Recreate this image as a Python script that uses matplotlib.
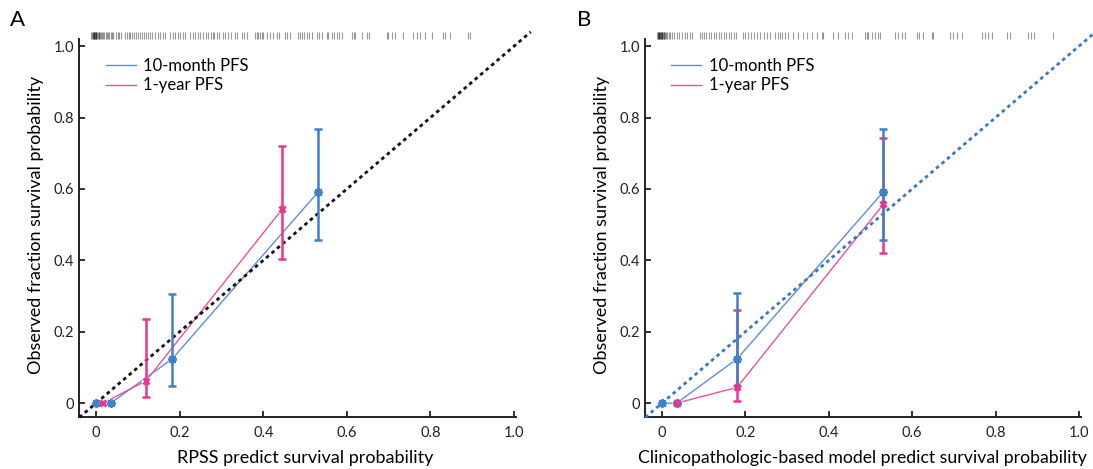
import matplotlib
matplotlib.use('Agg')
import matplotlib.pyplot as plt
from matplotlib.lines import Line2D

plt.rcParams['font.family'] = ['Lato', 'DejaVu Sans']

# ---------------- data ----------------
# Panel A (RPSS)
a_10m_x = [0.0, 0.035, 0.182, 0.531]
a_10m_y = [0.0, 0.0, 0.124, 0.591]
a_10m_lo = [0.0, 0.0, 0.048, 0.457]
a_10m_hi = [0.0, 0.0, 0.307, 0.767]
a_1y_x = [0.017, 0.120, 0.445]
a_1y_y = [0.0, 0.063, 0.543]
a_1y_lo = [0.0, 0.016, 0.403]
a_1y_hi = [0.0, 0.235, 0.720]

# Panel B (clinicopathologic model)
b_10m_x = [0.0, 0.035, 0.180, 0.531]
b_10m_y = [0.0, 0.0, 0.124, 0.592]
b_10m_lo = [0.0, 0.0, 0.048, 0.457]
b_10m_hi = [0.0, 0.0, 0.308, 0.767]
b_1y_x = [0.035, 0.180, 0.531]
b_1y_y = [0.0, 0.044, 0.557]
b_1y_lo = [0.0, 0.006, 0.421]
b_1y_hi = [0.0, 0.260, 0.742]

# rug of predicted probabilities (top)
rug_a = [-0.012, -0.010, -0.008, -0.007, -0.006, -0.005, -0.004, -0.003, -0.002, -0.001,
         0.000, 0.001, 0.002, 0.004, 0.006, 0.008, 0.010, 0.012, 0.014,
         0.017, 0.020, 0.023, 0.026, 0.029, 0.032, 0.035, 0.038, 0.041,
         0.048, 0.052, 0.056, 0.060,
         0.069, 0.073, 0.078, 0.082, 0.087, 0.091, 0.096, 0.100,
         0.105, 0.110, 0.115, 0.120, 0.125, 0.130, 0.134,
         0.141, 0.147, 0.153, 0.159, 0.165,
         0.177, 0.183, 0.189, 0.195, 0.201, 0.207, 0.213,
         0.225, 0.231, 0.237, 0.243, 0.249,
         0.256, 0.262, 0.268, 0.274, 0.280,
         0.282, 0.289, 0.295, 0.303, 0.308, 0.316, 0.324, 0.332, 0.336,
         0.350, 0.354, 0.360,
         0.380, 0.384, 0.388, 0.392, 0.396, 0.400,
         0.410, 0.416, 0.424, 0.432, 0.438,
         0.452, 0.457, 0.464,
         0.484, 0.488, 0.492, 0.498, 0.504, 0.510, 0.516,
         0.528, 0.534, 0.540,
         0.552, 0.556, 0.564, 0.569, 0.576,
         0.581, 0.588, 0.612, 0.616, 0.620, 0.636, 0.648, 0.652,
         0.695, 0.699, 0.707, 0.715, 0.735,
         0.759, 0.767, 0.775, 0.787, 0.803,
         0.831, 0.835, 0.847, 0.891, 0.895]

rug_b = [-0.012, -0.010, -0.009, -0.008, -0.007, -0.006, -0.005, -0.004, -0.003, -0.002,
         -0.001, 0.000, 0.001, 0.002, 0.004, 0.006, 0.008, 0.010, 0.012,
         0.016, 0.020, 0.025, 0.030, 0.036, 0.042, 0.048, 0.054, 0.060, 0.066, 0.072,
         0.091, 0.096, 0.101, 0.106, 0.112, 0.118, 0.124, 0.130, 0.136, 0.142,
         0.148, 0.154, 0.160, 0.166, 0.172, 0.178,
         0.194, 0.200, 0.207, 0.214, 0.221, 0.228, 0.236, 0.244, 0.252, 0.259,
         0.271, 0.278, 0.284,
         0.287, 0.295, 0.303, 0.315, 0.327, 0.339, 0.347, 0.359, 0.371, 0.383, 0.387,
         0.411, 0.423, 0.439, 0.447, 0.455,
         0.487, 0.491, 0.495, 0.503, 0.511, 0.519, 0.523,
         0.559, 0.567, 0.575, 0.583,
         0.611, 0.617, 0.625, 0.647, 0.651,
         0.691, 0.699, 0.707, 0.719,
         0.767, 0.775, 0.783, 0.791,
         0.827, 0.835, 0.878, 0.884, 0.892, 0.938]

ticks = [0.0, 0.2, 0.4, 0.6, 0.8, 1.0]
tick_labels = ['0', '0.2', '0.4', '0.6', '0.8', '1.0']
legend_labels = ['10-month PFS', '1-year PFS']

BLUE = '#3f80cc'
BLUE_LINE = '#5b90d4'
PINK = '#ea3590'
PINK_LINE = '#ee4f9e'

fig = plt.figure(figsize=(10.93, 4.69), dpi=100)
axA = fig.add_axes([0.0726, 0.110, 0.413, 0.822])
axB = fig.add_axes([0.5904, 0.110, 0.412, 0.822])


def series(ax, x, y, lo, hi, col, lcol, marker, ms, mew, ebz):
    ax.plot(x, y, color=lcol, lw=1.0, zorder=2)
    ax.plot(x, y, 'o', color='white', ms=7, mew=0, zorder=3)
    ex, ey, elo, ehi = [], [], [], []
    for xi, yi, l, h in zip(x, y, lo, hi):
        if h > l:
            ex.append(xi); ey.append(yi); elo.append(yi - l); ehi.append(h - yi)
    ax.errorbar(ex, ey, yerr=[elo, ehi], fmt='none', ecolor=col, elinewidth=1.8,
                capsize=3.2, capthick=1.8, zorder=ebz)
    ax.plot(x, y, linestyle='none', marker=marker, ms=ms, mew=mew, color=col,
            mec=col, zorder=6)


def setup(ax, xlabel, diag_col, rug, xl_size, xl_pos):
    ax.set_xlim(-0.04, 1.04)
    ax.set_ylim(-0.04, 1.04)
    ax.plot([-0.04, 1.04], [-0.04, 1.04], color=diag_col, lw=2.0,
            linestyle=(0, (1.3, 1.3)), clip_on=False, zorder=3.5)
    ax.vlines(rug, 1.02, 1.04, color='#000000', alpha=0.4, lw=0.8, clip_on=False)
    for s in ['top', 'right']:
        ax.spines[s].set_visible(False)
    ax.spines['left'].set_bounds(-0.04, 1.02)
    ax.spines['bottom'].set_bounds(-0.04, 1.005)
    for s in ['left', 'bottom']:
        ax.spines[s].set_linewidth(1.4)
        ax.spines[s].set_color('#222222')
    ax.set_xticks(ticks)
    ax.set_xticklabels(tick_labels)
    ax.set_yticks(ticks)
    ax.set_yticklabels(tick_labels)
    ax.tick_params(axis='both', direction='in', length=4, width=1.3,
                   labelsize=10.5, colors='#222222')
    ax.tick_params(axis='x', pad=6)
    ax.tick_params(axis='y', pad=4)
    ax.set_xlabel(xlabel, fontsize=xl_size, labelpad=7)
    ax.xaxis.set_label_coords(xl_pos, -0.085)
    ax.set_ylabel('Observed fraction survival probability', fontsize=13, labelpad=7)
    handles = [Line2D([], [], color=BLUE_LINE, lw=1.0),
               Line2D([], [], color=PINK_LINE, lw=1.0)]
    ax.legend(handles, legend_labels, loc='upper left', bbox_to_anchor=(0.058, 0.932),
              frameon=False, fontsize=12, handlelength=1.8, handletextpad=0.45,
              borderaxespad=0, borderpad=0, labelspacing=0.2)


asterisk = (8, 2, 0)
setup(axA, 'RPSS predict survival probability', '#111111', rug_a, 13, 0.5)
series(axA, a_10m_x, a_10m_y, a_10m_lo, a_10m_hi, BLUE, BLUE_LINE, asterisk, 6.5, 1.3, 5)
series(axA, a_1y_x, a_1y_y, a_1y_lo, a_1y_hi, PINK, PINK_LINE, 'x', 4.5, 2.2, 4)

setup(axB, 'Clinicopathologic-based model predict survival probability', '#3a78c0', rug_b,
      12.7, 0.482)
series(axB, b_10m_x, b_10m_y, b_10m_lo, b_10m_hi, BLUE, BLUE_LINE, asterisk, 6.5, 1.3, 5)
series(axB, b_1y_x, b_1y_y, b_1y_lo, b_1y_hi, PINK, PINK_LINE, 'x', 4.5, 2.2, 4)

fig.text(17 / 1093, 1 - 20 / 469, 'A', fontsize=16, ha='center', va='center')
fig.text(584 / 1093, 1 - 20 / 469, 'B', fontsize=16, ha='center', va='center')

fig.savefig('out.png', dpi=100)
